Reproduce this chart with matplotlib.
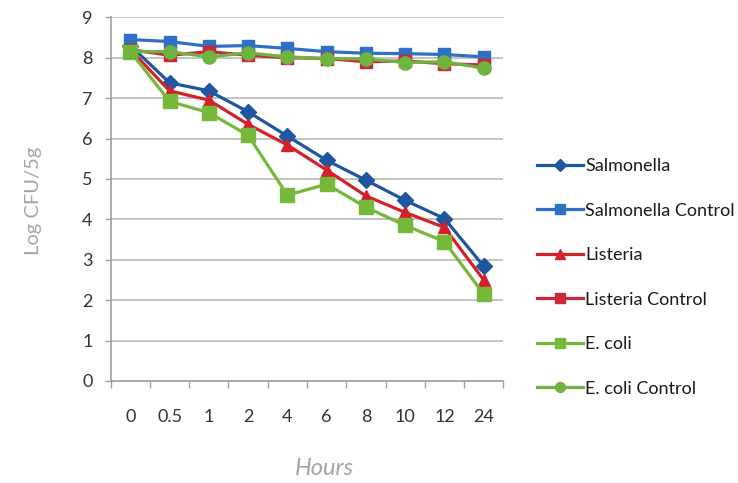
import matplotlib
matplotlib.use("Agg")
import matplotlib.pyplot as plt
import numpy as np

hours = ["0", "0.5", "1", "2", "4", "6", "8", "10", "12", "24"]

salmonella = [8.30, 7.38, 7.18, 6.66, 6.06, 5.46, 4.97, 4.47, 4.02, 2.84]
salmonella_control = [8.45, 8.40, 8.28, 8.30, 8.23, 8.15, 8.11, 8.10, 8.08, 8.02]
listeria = [8.20, 7.18, 6.95, 6.35, 5.84, 5.22, 4.58, 4.17, 3.80, 2.50]
listeria_control = [8.20, 8.06, 8.15, 8.06, 8.00, 7.98, 7.90, 7.92, 7.85, 7.82]
ecoli = [8.15, 6.92, 6.64, 6.08, 4.60, 4.87, 4.30, 3.85, 3.45, 2.15]
ecoli_control = [8.15, 8.15, 8.02, 8.12, 8.02, 7.98, 7.97, 7.88, 7.90, 7.74]

series = [
    ("Salmonella", salmonella, "#1F56A0", "D", 8.5),
    ("Salmonella Control", salmonella_control, "#2F6FC4", "s", 9.0),
    ("Listeria", listeria, "#D42129", "^", 9.0),
    ("Listeria Control", listeria_control, "#C8283A", "s", 9.0),
    ("E. coli", ecoli, "#76B83A", "s", 9.5),
    ("E. coli Control", ecoli_control, "#6EB43F", "o", 9.5),
]

tick_font = ["Lato", "DejaVu Sans"]

fig = plt.figure(figsize=(7.38, 4.83), dpi=100)
ax = fig.add_axes([0.150, 0.2112, 0.532, 0.753])

x = np.arange(len(hours))
handles = []
for name, vals, color, marker, ms in series:
    h, = ax.plot(x, vals, color=color, marker=marker, markersize=ms,
                 linewidth=2.3, label=name, zorder=3)
    handles.append(h)

ax.set_xlim(-0.5, len(hours) - 0.5)
ax.set_ylim(0, 9)
ax.set_yticks(range(0, 10))
ax.yaxis.grid(True, color="#BEBEBE", linewidth=1.3)
ax.set_axisbelow(True)

ax.set_xticks(x)
ax.set_xticklabels(hours)
ax.set_xticks(np.arange(-0.5, len(hours), 1.0), minor=True)
ax.tick_params(axis="x", which="major", length=0, pad=20)
ax.tick_params(axis="x", which="minor", length=5, color="#A0A0A0", width=1)
ax.tick_params(axis="y", length=4, color="#A0A0A0", width=1, pad=9)
ax.tick_params(labelsize=13, labelcolor="#333333")
for lbl in ax.get_xticklabels() + ax.get_yticklabels():
    lbl.set_fontfamily(tick_font)

for side in ("top", "right"):
    ax.spines[side].set_visible(False)
for side in ("left", "bottom"):
    ax.spines[side].set_color("#A0A0A0")
    ax.spines[side].set_linewidth(1.2)

fig.text(0.045, 0.585, "Log CFU/5g", rotation=90, ha="center", va="center",
         fontsize=14.5, color="#A6A6A6", family=["Lato", "DejaVu Sans"])
fig.text(0.44, 0.03, "Hours", ha="center", va="center", fontsize=17,
         color="#A6A6A6", style="italic", family=["Lato", "DejaVu Sans"])

leg = fig.legend(handles=handles, loc="center left",
                 bbox_to_anchor=(0.705, 0.4255), frameon=False,
                 fontsize=13, labelspacing=1.58, handlelength=2.6,
                 handletextpad=0.1, markerscale=0.75)
for t in leg.get_texts():
    t.set_fontfamily(tick_font)
    t.set_color("#1A1A1A")

fig.savefig("out.png", dpi=100)
